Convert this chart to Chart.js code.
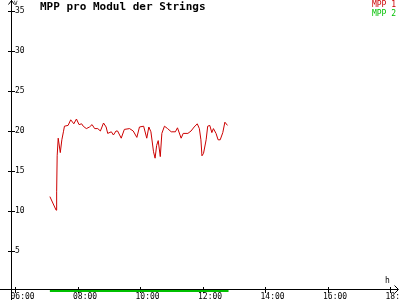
<!DOCTYPE html>
<html>
<head>
<meta charset="utf-8">
<script src="https://cdn.jsdelivr.net/npm/chart.js@4/dist/chart.umd.min.js"></script>
<style>
html,body{margin:0;padding:0;background:#fff;}
canvas{display:block;}
</style>
</head>
<body>
<canvas id="c" width="400" height="300"></canvas>
<script>
const chartTitle = "MPP pro Modul der Strings";
const seriesNames = ["MPP 1", "MPP 2"];
const seriesColors = ["#cc0000", "#00c000"];
const yUnit = "V";
const xUnit = "h";
const xTickValues = [6, 8, 10, 12, 14, 16, 18];
const xTickLabels = ["06:00", "08:00", "10:00", "12:00", "14:00", "16:00", "18:00"];
const yTickValues = [5, 10, 15, 20, 25, 30, 35];

const mpp1Times = ["07:06","07:18","07:19","07:20","07:22","07:26","07:29","07:32","07:34","07:41",
  "07:46","07:52","07:57","08:02","08:07","08:10","08:16","08:22","08:27","08:32",
  "08:38","08:43","08:49","08:54","08:57","09:04","09:08","09:13","09:16","09:23",
  "09:29","09:39","09:46","09:53","09:58","10:06","10:12","10:16","10:20","10:25",
  "10:28","10:31","10:34","10:38","10:41","10:46","10:52","10:59","11:07","11:11",
  "11:18","11:22","11:31","11:37","11:43","11:49","11:53","11:56","11:58","12:01",
  "12:06","12:09","12:13","12:17","12:20","12:25","12:29","12:33","12:38","12:42","12:47"];
const mpp1Values = [11.8,10.1,12.4,16.9,19.1,17.3,18.9,19.9,20.6,20.7,
  21.4,20.9,21.5,20.8,20.9,20.6,20.3,20.5,20.8,20.3,
  20.3,20.0,21.0,20.5,19.7,19.9,19.5,20.0,20.0,19.1,
  20.2,20.3,20.0,19.2,20.5,20.6,19.1,20.5,19.9,17.4,
  16.6,18.2,18.8,16.8,19.7,20.6,20.3,19.9,19.9,20.4,
  19.1,19.7,19.7,20.0,20.5,20.9,20.3,18.9,16.9,17.2,
  18.9,20.6,20.7,19.8,20.3,19.7,18.9,18.9,19.8,21.1,20.7];
const mpp2Times = ["07:06","12:49"];
const mpp2Values = [0, 0];

function toHours(t){ const p = t.split(":"); return +p[0] + (+p[1])/60; }
function toPoints(times, vals){ return times.map((t,i)=>({x: toHours(t), y: vals[i]})); }

const MONO = "'DejaVu Sans Mono', monospace";

const decor = {
  id: "decor",
  beforeDatasetsDraw(chart){
    const ctx = chart.ctx, a = chart.chartArea;
    const xs = chart.scales.x, ys = chart.scales.y;
    ctx.save();
    ctx.fillStyle = "#000";
    const ax = Math.round(a.left);
    const ay = Math.round(a.bottom) - 2;
    ctx.fillRect(ax, 0, 1, 300);
    ctx.fillRect(0, ay, 398, 1);
    ctx.strokeStyle = "#000"; ctx.lineWidth = 1;
    ctx.beginPath();
    ctx.moveTo(ax - 2.5, 4.5); ctx.lineTo(ax + 0.5, 0.5); ctx.lineTo(ax + 3.5, 4.5);
    ctx.moveTo(394.5, ay - 3.5); ctx.lineTo(398.5, ay + 0.5); ctx.lineTo(394.5, ay + 4.5);
    ctx.stroke();
    yTickValues.forEach(v => {
      const py = Math.round(ys.getPixelForValue(v));
      ctx.fillRect(ax - 3, py, 7, 1);
    });
    xTickValues.forEach(v => {
      const px = Math.floor(xs.getPixelForValue(v));
      ctx.fillRect(px, ay - 2, 1, 6);
    });
    ctx.textBaseline = "top";
    ctx.textAlign = "left";
    ctx.font = "6px " + MONO;
    ctx.fillText(yUnit, ax + 3, 0);
    ctx.font = "8px " + MONO;
    ctx.fillText(xUnit, 385, 277);
    ctx.font = "bold 11px " + MONO;
    ctx.fillText(chartTitle, 40, 2);
    ctx.font = "8px " + MONO;
    ctx.textAlign = "right";
    chart.data.datasets.forEach((ds, i) => {
      ctx.fillStyle = ds.borderColor;
      ctx.fillText(ds.label, 396, 1 + i * 8.5);
    });
    ctx.restore();
  }
};

new Chart(document.getElementById("c"), {
  type: "line",
  data: {
    datasets: [
      { label: seriesNames[0], data: toPoints(mpp1Times, mpp1Values), borderColor: seriesColors[0],
        borderWidth: 1, pointRadius: 0, tension: 0, fill: false },
      { label: seriesNames[1], data: toPoints(mpp2Times, mpp2Values), borderColor: seriesColors[1],
        borderWidth: 2, pointRadius: 0, tension: 0, fill: false, clip: 4 }
    ]
  },
  plugins: [decor],
  options: {
    responsive: false,
    animation: false,
    events: [],
    layout: { padding: { left: 0, right: 3, top: 3, bottom: 0 } },
    plugins: { legend: { display: false }, title: { display: false }, tooltip: { enabled: false } },
    scales: {
      x: {
        type: "linear",
        min: 5.856, max: 18.208,
        grid: { display: false, drawTicks: false },
        border: { display: false },
        afterBuildTicks: s => { s.ticks = xTickValues.map(v => ({ value: v })); },
        afterFit: s => { s.height = 9; s.paddingLeft = 0; s.paddingRight = 0; },
        ticks: {
          autoSkip: false, maxRotation: 0, minRotation: 0,
          align: "start", labelOffset: -5, padding: 1,
          color: "#000", font: { family: MONO, size: 8 },
          callback: (v) => { const i = xTickValues.indexOf(v); return i >= 0 ? xTickLabels[i] : ""; }
        }
      },
      y: {
        type: "linear",
        min: 0, max: 36,
        grid: { display: false, drawTicks: false },
        border: { display: false },
        afterBuildTicks: s => { s.ticks = yTickValues.map(v => ({ value: v })); },
        afterFit: s => { s.width = 11; s.paddingTop = 0; s.paddingBottom = 0; },
        ticks: {
          mirror: true, padding: 4, autoSkip: false,
          color: "#000", font: { family: MONO, size: 8 }
        }
      }
    }
  }
});
</script>
</body>
</html>
